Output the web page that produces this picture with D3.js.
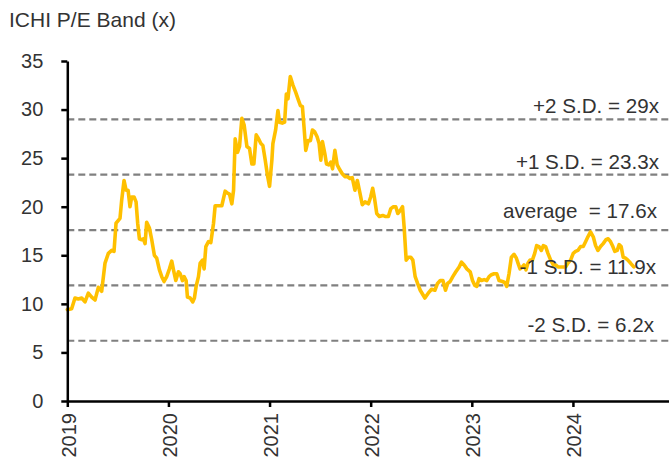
<!DOCTYPE html>
<html><head><meta charset="utf-8">
<script src="https://cdn.jsdelivr.net/npm/d3@7"></script>
<style>
body{margin:0;background:#fff;}
svg{display:block;font-family:"Liberation Sans",Arial,sans-serif;}
</style></head>
<body><svg id="c" width="669" height="463"></svg>
<script>
// decimal-year dates and P/E values
const dates = [2019.000,2019.043,2019.076,2019.109,2019.142,2019.175,2019.208,2019.241,2019.274,2019.307,2019.340,2019.373,2019.406,2019.439,2019.462,2019.482,2019.505,2019.521,2019.538,2019.561,2019.581,2019.601,2019.620,2019.637,2019.660,2019.680,2019.696,2019.713,2019.736,2019.752,2019.769,2019.785,2019.812,2019.835,2019.861,2019.884,2019.911,2019.934,2019.957,2019.983,
2020.010,2020.033,2020.050,2020.073,2020.099,2020.116,2020.139,2020.155,2020.175,2020.188,2020.215,2020.241,2020.257,2020.274,2020.297,2020.314,2020.337,2020.353,2020.370,2020.396,2020.419,2020.446,2020.462,2020.495,2020.528,2020.561,2020.584,2020.604,2020.627,2020.644,2020.660,2020.683,2020.703,2020.726,2020.749,2020.776,2020.802,2020.825,2020.845,2020.868,2020.891,2020.914,2020.934,2020.957,2020.980,
2021.000,2021.023,2021.033,2021.060,2021.083,2021.099,2021.126,2021.149,2021.166,2021.182,2021.205,2021.232,2021.258,2021.281,2021.305,2021.325,2021.341,2021.358,2021.381,2021.404,2021.424,2021.447,2021.470,2021.490,2021.507,2021.523,2021.546,2021.563,2021.586,2021.606,2021.623,2021.646,2021.669,2021.695,2021.719,2021.745,2021.768,2021.795,2021.818,2021.844,2021.868,2021.894,2021.917,2021.944,2021.977,
2022.000,2022.020,2022.036,2022.060,2022.086,2022.119,2022.142,2022.175,2022.199,2022.225,2022.248,2022.268,2022.291,2022.315,2022.331,2022.351,2022.374,2022.397,2022.417,2022.440,2022.464,2022.490,2022.536,2022.569,2022.602,2022.635,2022.661,2022.688,2022.714,2022.740,2022.760,2022.786,2022.812,2022.842,2022.875,2022.898,2022.924,2022.951,2022.984,
2023.007,2023.030,2023.049,2023.072,2023.095,2023.122,2023.148,2023.171,2023.194,2023.220,2023.247,2023.270,2023.303,2023.326,2023.345,2023.368,2023.391,2023.418,2023.441,2023.457,2023.477,2023.500,2023.516,2023.536,2023.556,2023.576,2023.599,2023.622,2023.641,2023.664,2023.688,2023.707,2023.730,2023.753,2023.780,2023.806,2023.829,2023.852,2023.878,2023.905,2023.928,2023.951,2023.977,
2024.003,2024.026,2024.049,2024.076,2024.102,2024.125,2024.148,2024.174,2024.201,2024.224,2024.247,2024.273,2024.299,2024.326,2024.349,2024.372,2024.395,2024.414,2024.438,2024.457,2024.477,2024.497,2024.520,2024.543,2024.569,2024.602];
const peValues = [9.4,9.5,10.6,10.5,10.6,10.2,11.1,10.7,10.4,11.7,11.3,14.2,15.2,15.5,15.4,18.3,18.6,18.8,20.7,22.7,21.7,21.7,20.0,21.0,21.0,20.5,18.3,16.7,16.6,16.7,16.2,18.4,17.8,16.6,15.0,14.7,13.5,12.8,12.3,12.8,
13.6,14.4,13.5,12.4,13.3,13.1,12.4,12.8,12.4,10.7,10.6,10.2,10.6,11.8,12.8,14.2,14.5,13.6,15.9,16.4,16.3,18.3,20.1,20.1,20.1,21.6,21.4,21.3,20.3,21.7,27.0,25.6,26.2,29.1,28.4,26.2,26.0,24.4,24.4,27.4,27.0,26.5,26.3,24.8,23.2,
22.1,24.8,26.5,27.9,29.9,28.7,28.6,28.7,31.6,31.1,33.4,32.5,31.8,31.1,30.4,30.3,28.2,25.8,26.8,26.8,27.9,27.7,27.2,26.5,24.8,26.7,25.5,24.4,24.3,24.6,23.9,25.8,24.3,23.8,23.4,23.1,23.1,22.9,23.0,21.7,22.7,21.4,20.2,20.5,20.3,
21.0,21.9,21.0,19.3,19.0,19.1,19.0,19.0,19.8,20.0,20.0,19.3,19.6,20.0,17.9,14.5,14.8,14.8,14.5,12.8,12.1,11.4,10.6,11.1,11.5,11.4,12.1,12.4,12.4,11.4,12.1,12.3,12.8,13.3,13.8,14.3,14.0,13.6,13.3,
12.4,11.9,11.8,12.6,12.4,12.5,12.4,12.8,13.0,13.1,13.1,12.4,12.3,12.2,11.8,13.1,14.8,15.1,14.7,14.2,13.6,13.8,14.0,13.5,14.2,14.5,14.5,15.2,16.0,15.9,15.5,16.0,15.9,15.2,14.5,14.0,14.0,13.8,13.8,13.8,13.8,14.2,14.5,
15.2,15.4,15.5,15.9,15.9,16.4,16.9,17.4,16.9,16.0,15.5,15.9,16.2,16.6,16.7,16.4,15.9,15.4,15.5,16.1,15.9,14.8,14.7,14.5,14.2,13.8];
const bandValues = [29, 23.3, 17.6, 11.9, 6.2];
const bandLabels = ["+2 S.D. = 29x", "+1 S.D. = 23.3x", "average  = 17.6x", "-1 S.D. = 11.9x", "-2 S.D. = 6.2x"];
const yTicks = [0,5,10,15,20,25,30,35];
const xTicks = [2019,2020,2021,2022,2023,2024];
const title = "ICHI P/E Band (x)";

// layout (styles, not data)
const labelOffsets = [[659,6],[659,5.5],[657,12],[656,11],[654,9]];

const svg = d3.select("#c");
const x = d3.scaleLinear().domain([2019, 2024.95]).range([67.3, 669]);
const y = d3.scaleLinear().domain([0, 35]).range([401, 61]);
const textColor = "#333";

svg.append("text").attr("x", 9).attr("y", 27)
  .attr("font-size", 21).attr("fill", textColor).text(title);

// band lines
svg.append("g").selectAll("line").data(bandValues).join("line")
  .attr("x1", x(2019)).attr("x2", 669)
  .attr("y1", d => y(d)).attr("y2", d => y(d))
  .attr("stroke", "#808080").attr("stroke-width", 2.2)
  .attr("stroke-dasharray", "7,4");

// series
const data = dates.map((d, i) => [d, peValues[i]]);
svg.append("path").datum(data)
  .attr("fill", "none").attr("stroke", "#FFC000").attr("stroke-width", 3.6)
  .attr("stroke-linejoin", "round").attr("stroke-linecap", "round")
  .attr("d", d3.line().x(d => x(d[0])).y(d => y(d[1])));

// band labels
svg.append("g").selectAll("text").data(bandValues).join("text")
  .attr("x", (d, i) => labelOffsets[i][0])
  .attr("y", (d, i) => y(d) - labelOffsets[i][1])
  .attr("text-anchor", "end").attr("font-size", 20.6).attr("fill", textColor)
  .style("white-space", "pre")
  .text((d, i) => bandLabels[i]);

// y axis
const ya = svg.append("g").attr("transform", `translate(${x(2019)},0)`)
  .call(d3.axisLeft(y).tickValues(yTicks).tickSize(6).tickSizeOuter(0).tickPadding(18));
ya.select(".domain").attr("stroke", "#000").attr("stroke-width", 2.5);
ya.selectAll(".tick line").attr("stroke", "#000").attr("stroke-width", 2.5);
ya.selectAll(".tick text").attr("font-size", 20).attr("fill", textColor)
  .attr("font-family", "Liberation Sans, Arial, sans-serif");

// x axis
const xa = svg.append("g").attr("transform", `translate(0,${y(0)})`)
  .call(d3.axisBottom(x).tickValues(xTicks).tickFormat(d3.format("d")).tickSize(6).tickSizeOuter(0));
xa.select(".domain").attr("stroke", "#000").attr("stroke-width", 2.5);
xa.selectAll(".tick line").attr("stroke", "#000").attr("stroke-width", 2.5);
xa.selectAll(".tick text").attr("font-size", 20).attr("fill", textColor)
  .attr("font-family", "Liberation Sans, Arial, sans-serif")
  .attr("text-anchor", "end")
  .attr("transform", "rotate(-90)")
  .attr("x", -12).attr("y", 0).attr("dy", "0.4em");
</script></body></html>
